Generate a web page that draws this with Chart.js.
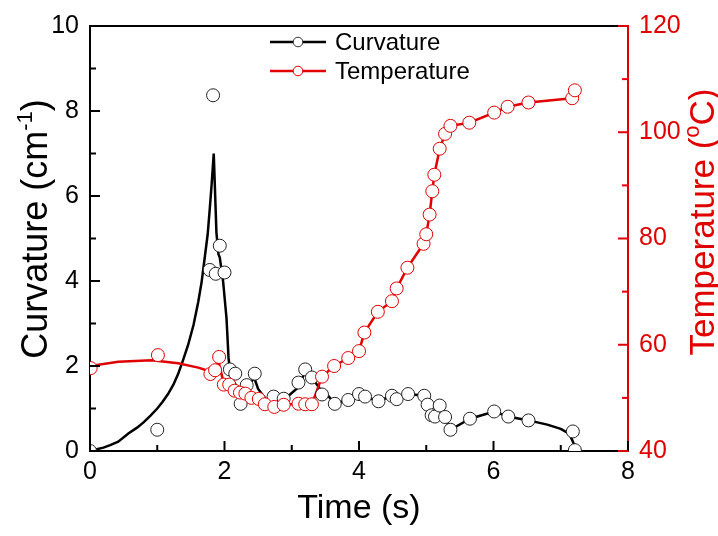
<!DOCTYPE html>
<html>
<head>
<meta charset="utf-8">
<script src="https://cdn.jsdelivr.net/npm/chart.js@4.4.0/dist/chart.umd.min.js"></script>
<style>body{margin:0;background:#fff}</style>
</head>
<body>
<canvas id="myChart" width="718" height="536"></canvas>
<script>
  // measured curvature (open black circles)
  var curvTime=[0,1.0,1.78,1.83,1.87,1.93,2.0,2.08,2.16,2.24,2.33,2.45,2.73,2.88,3.1,3.2,3.3,3.45,3.64,3.84,4.0,4.09,4.29,4.49,4.56,4.73,4.97,5.02,5.08,5.13,5.2,5.28,5.36,5.65,6.01,6.22,6.52,7.18,7.21]
  var curvValue=[0,0.5,4.26,8.37,4.17,4.83,4.2,1.92,1.82,1.11,1.55,1.82,1.28,1.23,1.61,1.92,1.73,1.33,1.11,1.2,1.34,1.28,1.17,1.3,1.22,1.34,1.3,1.09,0.84,0.81,1.07,0.8,0.5,0.76,0.93,0.81,0.72,0.46,0.02]

  // curvature fit line
  var curvLineTime=[0,0.1,0.2,0.3,0.42,0.57,0.7,0.8,0.9,1.0,1.08,1.16,1.24,1.31,1.38,1.46,1.54,1.61,1.66,1.71,1.75,1.78,1.81,1.84,1.88,1.91,1.93,1.98,2.03,2.06,2.09,2.16,2.26,2.35,2.44,2.5,2.63,2.9,3.1,3.2,3.3,3.42,3.54,3.64,3.84,4.0,4.09,4.29,4.49,4.56,4.73,4.97,5.02,5.08,5.13,5.28,5.36,5.65,6.01,6.22,6.52,6.8,7.0,7.13,7.2,7.23]
  var curvLineValue=[0,0.04,0.08,0.14,0.22,0.41,0.55,0.68,0.83,1.0,1.16,1.34,1.56,1.81,2.12,2.5,2.97,3.51,3.98,4.6,5.1,5.68,6.3,7.0,5.14,4.63,4.55,3.98,3.12,2.19,1.77,1.57,1.34,1.5,1.73,1.46,1.19,1.23,1.5,1.88,1.73,1.46,1.3,1.11,1.2,1.34,1.28,1.17,1.3,1.22,1.34,1.3,1.09,0.84,0.81,0.8,0.5,0.76,0.93,0.81,0.72,0.62,0.52,0.4,0.15,0]

  // measured temperature (open red circles)
  var tempTime=[0.01,1.01,1.79,1.86,1.92,1.99,2.07,2.15,2.23,2.31,2.40,2.51,2.60,2.74,2.88,3.10,3.20,3.30,3.45,3.63,3.84,4.0,4.08,4.28,4.49,4.56,4.72,4.96,5.0,5.05,5.09,5.12,5.20,5.28,5.36,5.64,6.01,6.21,6.52,7.17,7.21]
  var tempValue=[55.6,58.05,54.5,55.2,57.7,52.5,52.5,51.35,51.0,50.8,50.0,49.8,48.8,48.3,48.7,48.9,48.8,48.8,54.0,56.0,57.5,58.8,62.3,66.2,68.2,70.6,74.5,79.0,80.8,84.5,88.9,92.0,96.9,99.7,101.2,101.8,103.7,104.8,105.6,106.4,107.9]

  // temperature line
  var tempLineTime=[0,0.42,0.92,1.31,1.61,1.73,1.79,1.86,1.91,1.98,2.07,2.15,2.23,2.31,2.40,2.51,2.60,2.74,2.88,3.10,3.20,3.30,3.45,3.63,3.84,4.0,4.08,4.28,4.49,4.56,4.72,4.96,5.0,5.05,5.09,5.12,5.20,5.28,5.36,5.64,6.01,6.21,6.52,7.17]
  var tempLineValue=[56.0,56.8,57.1,56.5,55.7,55.2,54.9,55.1,56.9,53.2,52.5,51.35,51.0,50.8,50.0,49.8,48.8,48.3,48.7,48.9,48.8,48.8,54.0,56.0,57.5,58.8,62.3,66.2,68.2,70.6,74.5,79.0,80.8,84.5,88.9,92.0,96.9,99.7,101.2,101.8,103.7,104.8,105.6,106.4]

  var xTicks=[0,2,4,6,8]
  var xMinor=[1,3,5,7]
  var leftTicks=[0,2,4,6,8,10]
  var leftMinor=[1,3,5,7,9]
  var rightTicks=[40,60,80,100,120]
  var rightMinor=[50,70,90,110]

  var RED='#e00000'
  var FONT='"Liberation Sans", Arial, sans-serif'

  function pairs(xs,ys){
    return xs.map(function(x,i){return {x:x,y:ys[i]}})
  }

  function tickMarks(ctx,scale,values,len,side,color){
    ctx.strokeStyle=color
    ctx.lineWidth=2
    values.forEach(function(v){
      var p=scale.getPixelForValue(v)
      ctx.beginPath()
      if(side==='bottom'){ctx.moveTo(p,scale.top);ctx.lineTo(p,scale.top-len)}
      if(side==='left'){ctx.moveTo(scale.right,p);ctx.lineTo(scale.right+len,p)}
      if(side==='right'){ctx.moveTo(scale.left,p);ctx.lineTo(scale.left-len,p)}
      ctx.stroke()
    })
  }

  // text with superscript pieces, centred on (cx,cy), optionally rotated
  function titleText(ctx,parts,cx,cy,rot,color,size){
    ctx.save()
    ctx.translate(cx,cy)
    ctx.rotate(rot)
    ctx.fillStyle=color
    ctx.textBaseline='alphabetic'
    var total=0
    parts.forEach(function(p){
      ctx.font=(p.sup?Math.round(size*0.62):size)+'px '+FONT
      p.w=ctx.measureText(p.t).width
      total+=p.w
    })
    var x=-total/2
    parts.forEach(function(p){
      ctx.font=(p.sup?Math.round(size*0.62):size)+'px '+FONT
      ctx.fillText(p.t,x,size*0.36+(p.sup?-size*0.42:0))
      x+=p.w
    })
    ctx.restore()
  }

  const decorations={
    id:'decorations',
    afterDraw(chart){
      const ctx=chart.ctx
      const {left,right,top}=chart.chartArea
      const sx=chart.scales.x, sy=chart.scales.y, sy1=chart.scales.y1
      ctx.save()
      // top frame
      ctx.strokeStyle='#000'
      ctx.lineWidth=2
      ctx.beginPath()
      ctx.moveTo(left,top)
      ctx.lineTo(right,top)
      ctx.stroke()
      // inward ticks
      tickMarks(ctx,sx,xTicks,10,'bottom','#000')
      tickMarks(ctx,sx,xMinor,6,'bottom','#000')
      tickMarks(ctx,sy,leftTicks,10,'left','#000')
      tickMarks(ctx,sy,leftMinor,6,'left','#000')
      tickMarks(ctx,sy1,rightTicks,10,'right',RED)
      tickMarks(ctx,sy1,rightMinor,6,'right',RED)

      // axis titles
      titleText(ctx,[{t:'Time (s)'}],(left+right)/2,506,0,'#000',34)
      titleText(ctx,[{t:'Curvature (cm'},{t:'-1',sup:true},{t:')'}],34,229,-Math.PI/2,'#000',36)
      titleText(ctx,[{t:'Temperature ('},{t:'o',sup:true},{t:'C)'}],701,222,-Math.PI/2,RED,35)

      // legend
      var rows=[
        {label:chart.data.datasets[2].label,color:'#000',stroke:'#333',y:42},
        {label:chart.data.datasets[3].label,color:RED,stroke:RED,y:71}
      ]
      rows.forEach(function(r){
        ctx.strokeStyle=r.color
        ctx.lineWidth=2.5
        ctx.beginPath()
        ctx.moveTo(270,r.y)
        ctx.lineTo(326,r.y)
        ctx.stroke()
        ctx.beginPath()
        ctx.arc(298,r.y,4.8,0,Math.PI*2)
        ctx.fillStyle='#fff'
        ctx.fill()
        ctx.lineWidth=1
        ctx.strokeStyle=r.stroke
        ctx.stroke()
        ctx.fillStyle='#000'
        ctx.font='24px '+FONT
        ctx.textBaseline='middle'
        ctx.textAlign='left'
        ctx.fillText(r.label,335,r.y+1)
      })
      ctx.restore()
    }
  }

  const config={
    type:'scatter',
    data:{
      datasets:[
        {label:'Curvature fit',data:pairs(curvLineTime,curvLineValue),showLine:true,borderColor:'#000',borderWidth:2.5,pointRadius:0,yAxisID:'y',order:4},
        {label:'Temperature line',data:pairs(tempLineTime,tempLineValue),showLine:true,borderColor:RED,borderWidth:2.5,pointRadius:0,yAxisID:'y1',order:3},
        {label:'Curvature',data:pairs(curvTime,curvValue),showLine:false,pointRadius:6.5,pointBackgroundColor:'#fff',pointBorderColor:'#222',pointBorderWidth:1,yAxisID:'y',order:2},
        {label:'Temperature',data:pairs(tempTime,tempValue),showLine:false,pointRadius:6.5,pointBackgroundColor:'#fff',pointBorderColor:RED,pointBorderWidth:1,yAxisID:'y1',order:1}
      ]
    },
    options:{
      responsive:false,
      animation:false,
      layout:{padding:{top:21,right:0,left:0,bottom:0}},
      plugins:{legend:{display:false},tooltip:{enabled:false}},
      scales:{
        x:{
          type:'linear',position:'bottom',min:0,max:8,
          grid:{display:false,drawTicks:false},
          border:{color:'#000',width:2},
          ticks:{color:'#000',font:{family:FONT,size:25},padding:6},
          afterBuildTicks:function(s){s.ticks=xTicks.map(function(v){return {value:v}})},
          afterFit:function(s){s.height=85}
        },
        y:{
          type:'linear',position:'left',min:0,max:10,
          grid:{display:false,drawTicks:false},
          border:{color:'#000',width:2},
          ticks:{color:'#000',font:{family:FONT,size:25},padding:11},
          afterBuildTicks:function(s){s.ticks=leftTicks.map(function(v){return {value:v}})},
          afterFit:function(s){s.width=90}
        },
        y1:{
          type:'linear',position:'right',min:40,max:120,
          grid:{display:false,drawTicks:false},
          border:{color:RED,width:2},
          ticks:{color:RED,font:{family:FONT,size:25},padding:11},
          afterBuildTicks:function(s){s.ticks=rightTicks.map(function(v){return {value:v}})},
          afterFit:function(s){s.width=90}
        }
      }
    },
    plugins:[decorations]
  }

  const chart=new Chart(document.getElementById('myChart'),config)
</script>
</body>
</html>
